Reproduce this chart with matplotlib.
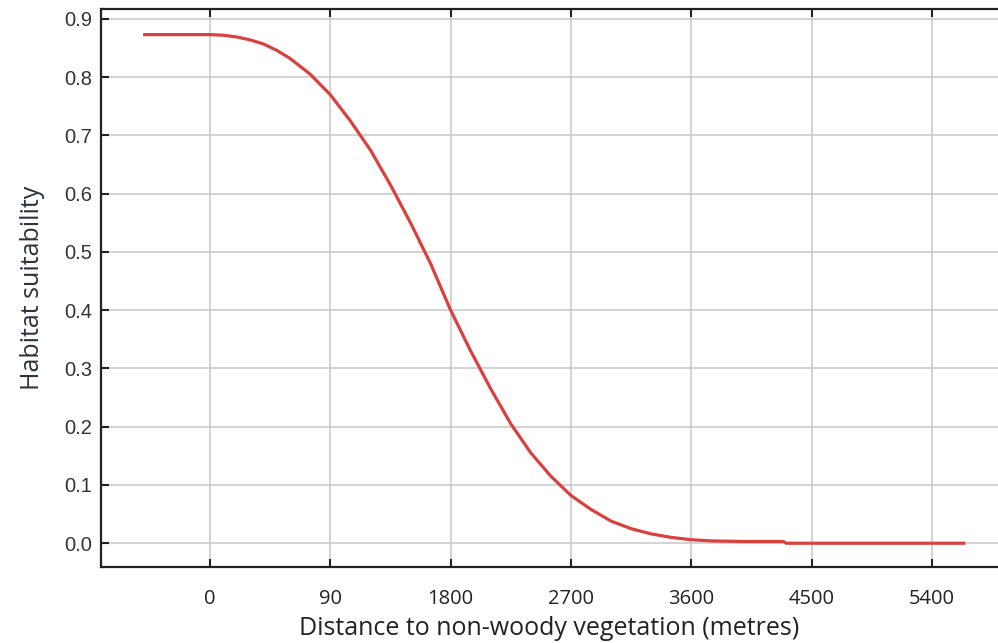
import matplotlib.pyplot as plt

# response curve (distance in metres -> suitability)
dist = [-500, 0, 100, 200, 300, 400, 500, 600, 750, 900, 1050, 1200, 1350,
        1500, 1650, 1800, 1950, 2100, 2250, 2400, 2550, 2700, 2850, 3000,
        3150, 3300, 3450, 3600, 3750, 4000, 4290, 4310, 5000, 5650]
suit = [0.873, 0.873, 0.872, 0.869, 0.864, 0.857, 0.846, 0.832, 0.805, 0.77,
        0.725, 0.675, 0.615, 0.55, 0.48, 0.40, 0.33, 0.265, 0.205, 0.155,
        0.115, 0.082, 0.058, 0.038, 0.025, 0.016, 0.010, 0.006, 0.004, 0.003,
        0.003, 0.0, 0.0, 0.0]

xticks = [0, 900, 1800, 2700, 3600, 4500, 5400]
xlabels = ['0', '90', '1800', '2700', '3600', '4500', '5400']
yticks = [0.0, 0.1, 0.2, 0.3, 0.4, 0.5, 0.6, 0.7, 0.8, 0.9]

fig = plt.figure(figsize=(9.98, 6.43), dpi=100)
ax = fig.add_axes([0.1012, 0.118, 0.8988, 0.868])

ax.plot(dist, suit, color='#d9413f', lw=2.3, solid_capstyle='butt', zorder=3)

ax.set_xlim(-815, 5894)
ax.set_ylim(-0.041, 0.917)
ax.set_xticks(xticks)
ax.set_xticklabels(xlabels, family='Open Sans', fontsize=14.5, color='#222222')
ax.set_yticks(yticks)
ax.set_yticklabels(['%.1f' % v for v in yticks], family='Liberation Sans',
                   fontsize=14.5, color='#333333')
ax.grid(True, color='#c8c8c8', lw=1.1)
ax.set_axisbelow(True)

ax.tick_params(direction='in', top=True, length=6, width=1.5, color='#222222')
ax.tick_params(axis='y', pad=6.5)
ax.tick_params(axis='x', pad=16)
ax.tick_params(labeltop=False)
for s in ['left', 'bottom', 'top']:
    ax.spines[s].set_color('#222222')
    ax.spines[s].set_linewidth(1.6)
ax.spines['right'].set_visible(False)

ax.set_xlabel('Distance to non-woody vegetation (metres)', family='Open Sans',
              fontsize=18, color='#222222', labelpad=5)
ax.set_ylabel('Habitat suitability', family='Open Sans', fontsize=18,
              color='#2a3340', labelpad=14)

fig.savefig('out.png', dpi=100)
